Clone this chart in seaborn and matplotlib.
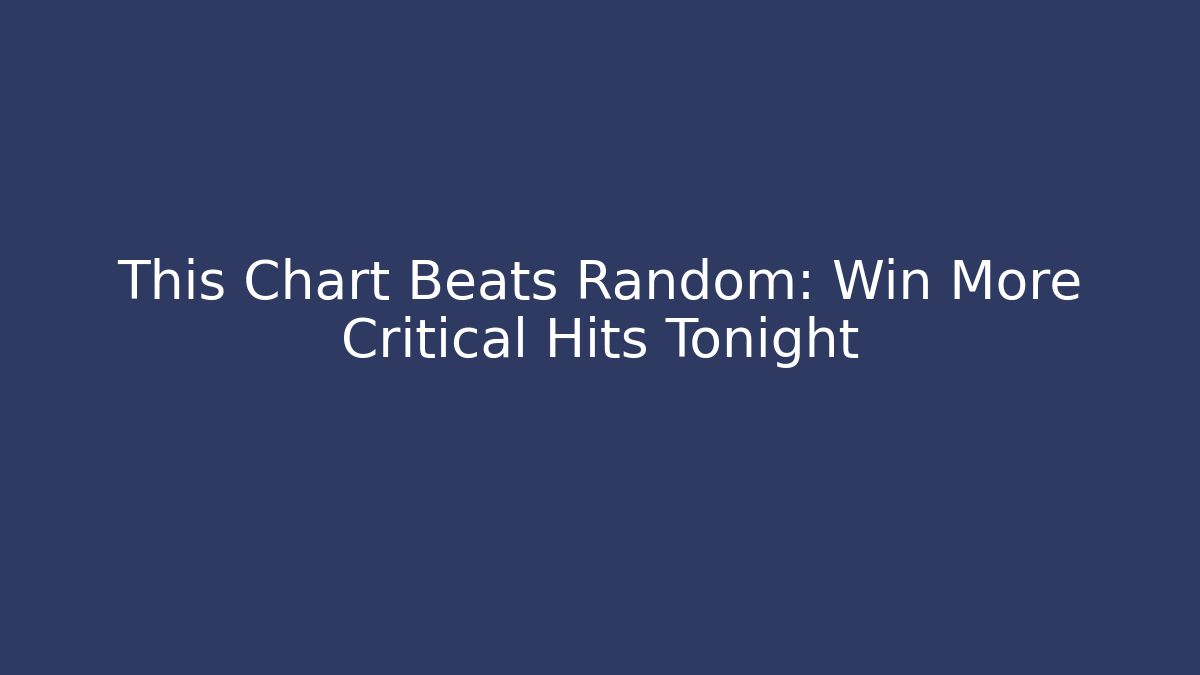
import matplotlib
matplotlib.use("Agg")
import matplotlib.pyplot as plt
import seaborn as sns

title_lines = ["This Chart Beats Random: Win More", "Critical Hits Tonight"]
bg_color = "#2f3a63"
text_color = "#ffffff"

sns.set_theme(style="white")
plt.rcParams['font.family'] = ['DejaVu Sans']

fig = plt.figure(figsize=(12, 6.75), dpi=100, facecolor=bg_color)
ax = fig.add_axes([0, 0, 1, 1])
ax.set_facecolor(bg_color)
ax.set_axis_off()
ax.set_xlim(0, 1)
ax.set_ylim(0, 1)
ax.text(0.5, 0.536, "\n".join(title_lines), ha="center", va="center",
        fontsize=38.5, color=text_color, linespacing=1.14)
fig.savefig("out.png", dpi=100, facecolor=bg_color)
